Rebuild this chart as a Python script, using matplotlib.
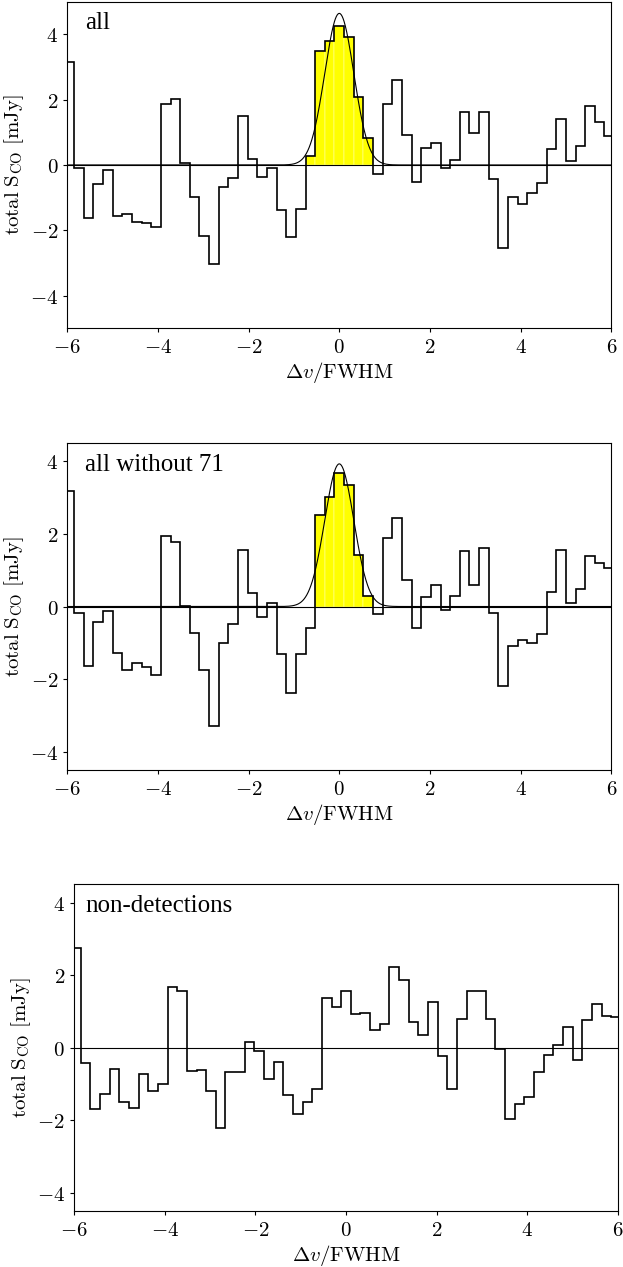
import numpy as np
import matplotlib
matplotlib.use("Agg")
import matplotlib.pyplot as plt
from matplotlib.ticker import FuncFormatter

plt.rcParams['mathtext.fontset'] = 'cm'
plt.rcParams['axes.linewidth'] = 0.8

# bin width in units of FWHM, bins centred on 0
BIN_WIDTH = 0.2127
bin_index = np.arange(-28, 29)

# stacked spectra [mJy], one value per bin (k = -28 ... 28)
flux_all = [3.14, -0.08, -1.62, -0.57, -0.16, -1.55, -1.49, -1.74, -1.78, -1.90,
            1.87, 2.03, 0.07, -0.98, -2.19, -3.03, -0.67, -0.41, 1.50, 0.19,
            -0.37, -0.08, -1.38, -2.22, -1.36, 0.27, 3.50, 3.81, 4.26, 3.93,
            2.09, 0.82, -0.27, 1.88, 2.60, 0.93, -0.51, 0.53, 0.68, -0.09,
            0.14, 1.63, 0.97, 1.63, -0.44, -2.55, -0.99, -1.21, -0.85, -0.56,
            0.50, 1.42, 0.12, 0.59, 1.79, 1.32, 0.90]

flux_without_71 = [3.17, -0.17, -1.65, -0.43, -0.13, -1.28, -1.74, -1.57, -1.66, -1.88,
                   1.94, 1.77, 0.02, -0.72, -1.76, -3.28, -1.00, -0.48, 1.56, 0.37,
                   -0.29, 0.09, -1.31, -2.39, -1.31, -0.60, 2.51, 3.01, 3.68, 3.35,
                   1.42, 0.29, -0.21, 1.89, 2.44, 0.73, -0.58, 0.26, 0.58, -0.09,
                   0.30, 1.53, 0.58, 1.62, -0.18, -2.20, -1.08, -0.91, -1.01, -0.76,
                   0.39, 1.55, 0.09, 0.49, 1.39, 1.21, 1.06]

flux_nondet = [2.75, -0.42, -1.70, -1.28, -0.59, -1.50, -1.66, -0.72, -1.20, -0.99,
               1.67, 1.55, -0.63, -0.61, -1.19, -2.22, -0.67, -0.67, 0.16, -0.08,
               -0.85, -0.40, -1.31, -1.84, -1.49, -1.15, 1.37, 1.12, 1.56, 0.92,
               0.96, 0.50, 0.64, 2.21, 1.86, 0.71, 0.35, 1.27, -0.23, -1.14,
               0.80, 1.56, 1.56, 0.79, -0.03, -1.97, -1.54, -1.37, -0.68, -0.21,
               0.07, 0.57, -0.33, 0.76, 1.20, 0.88, 0.84]

# line region (bin indices) and gaussian fits
line_bins_all = (-3, 3)
line_bins_without_71 = (-2, 3)
gauss_amp_all = 4.64
gauss_amp_without_71 = 3.93
gauss_sigma = 0.32

labels = ["all", "all without 71", "non-detections"]

panels = [
    dict(flux=flux_all, line=line_bins_all, amp=gauss_amp_all,
         rect=[0.108, 0.7409, 0.8732, 0.2578], ylim=(-5, 5), tx=0.033),
    dict(flux=flux_without_71, line=line_bins_without_71, amp=gauss_amp_without_71,
         rect=[0.108, 0.3924, 0.8732, 0.2578], ylim=(-4.5, 4.5), tx=0.033),
    dict(flux=flux_nondet, line=None, amp=None,
         rect=[0.1188, 0.0442, 0.8732, 0.2578], ylim=(-4.5, 4.5), tx=0.020),
]

centers = bin_index * BIN_WIDTH
edges = np.append(centers - BIN_WIDTH / 2, centers[-1] + BIN_WIDTH / 2)
xg = np.linspace(-6, 6, 1200)

fig = plt.figure(figsize=(6.23, 12.67), dpi=100)
fmt = FuncFormatter(lambda v, pos: r'$%d$' % v if v >= 0 else r'$-%d$' % -v)

for p, label in zip(panels, labels):
    ax = fig.add_axes(p['rect'])
    flux = np.array(p['flux'])
    if p['line'] is not None:
        sel = (bin_index >= p['line'][0]) & (bin_index <= p['line'][1])
        ax.bar(centers[sel], flux[sel], width=BIN_WIDTH, color='yellow',
               edgecolor='#ffffd0', linewidth=0.3, zorder=1)
        ax.plot(xg, p['amp'] * np.exp(-xg**2 / (2 * gauss_sigma**2)),
                color='black', lw=0.8, zorder=3)
    ax.axhline(0, color='black', lw=0.8, zorder=2)
    ax.stairs(flux, edges, baseline=None, color='black', lw=1.2, zorder=4)
    ax.set_xlim(-6, 6)
    ax.set_ylim(*p['ylim'])
    ax.set_xticks([-6, -4, -2, 0, 2, 4, 6])
    ax.set_yticks([-4, -2, 0, 2, 4])
    ax.xaxis.set_major_formatter(fmt)
    ax.yaxis.set_major_formatter(fmt)
    ax.tick_params(labelsize=15, length=3, width=0.8)
    ax.set_xlabel(r'$\Delta v/\mathrm{FWHM}$', fontsize=15, labelpad=2)
    ax.set_ylabel(r'$\mathrm{total\ S_{CO}\ [mJy]}$', fontsize=15, labelpad=3)
    ax.text(p['tx'], 0.916, label, transform=ax.transAxes, fontsize=18,
            family='Liberation Serif', va='baseline', ha='left')

fig.savefig("out.png", dpi=100)
